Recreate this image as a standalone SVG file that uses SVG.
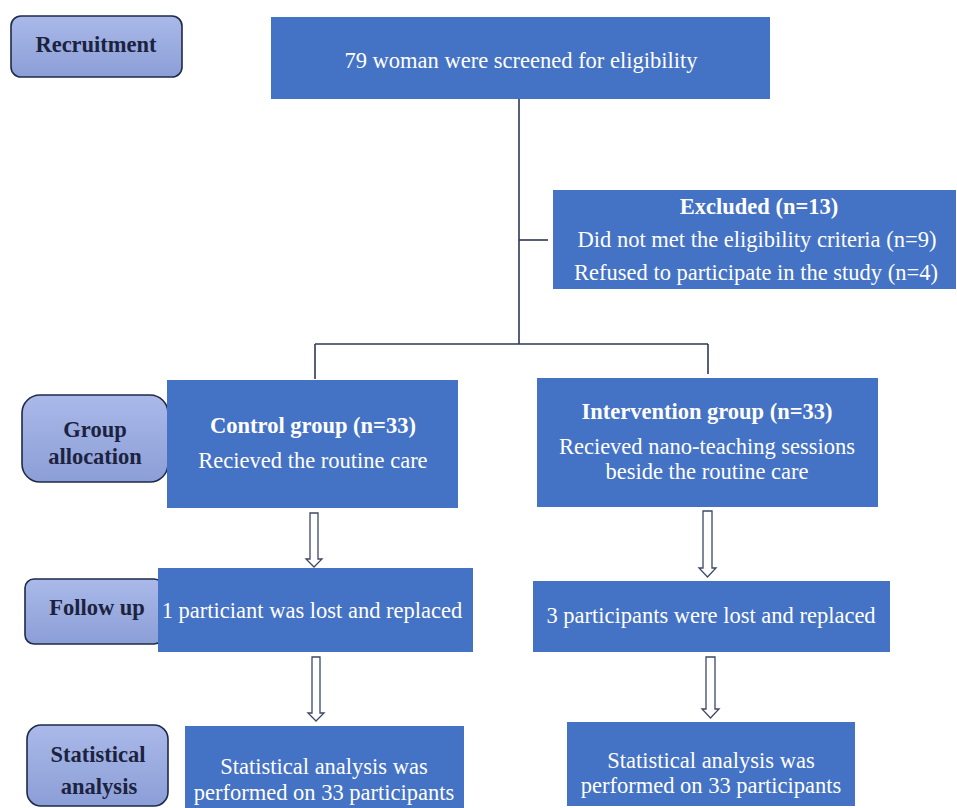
<svg xmlns="http://www.w3.org/2000/svg" width="957" height="808" viewBox="0 0 957 808">
<defs>
<linearGradient id="lbl" x1="0" y1="0" x2="0" y2="1">
<stop offset="0" stop-color="#aab9e9"/>
<stop offset="1" stop-color="#8b9ed6"/>
</linearGradient>
<style>
.box{fill:#4472c4;}
.lab{fill:url(#lbl);stroke:#1f2a48;stroke-width:1.6;}
.wt{font-family:'Liberation Serif','DejaVu Serif',serif;font-size:22.5px;fill:#ffffff;text-anchor:middle;}
.b{font-weight:bold;}
.lt{font-family:'Liberation Serif','DejaVu Serif',serif;font-size:22.5px;font-weight:bold;fill:#1c2340;text-anchor:middle;}
.ln{fill:none;stroke:#2e3856;stroke-width:1.6;}
.ar{fill:#ffffff;stroke:#3c4868;stroke-width:1.3;stroke-linejoin:miter;}
</style>
</defs>
<rect width="957" height="808" fill="#ffffff"/>

<g id="connectors">
<path class="ln" d="M519 99 V344"/>
<path class="ln" d="M519 240 H548"/>
<path class="ln" d="M315 344 H708"/>
<path class="ln" d="M315 344 V379"/>
<path class="ln" d="M708 344 V374"/>
<path class="ar" d="M310 513 H318 V559 H322 L314 567 L306 559 H310 Z"/>
<path class="ar" d="M312 657 H320 V713 H324 L316 721 L308 713 H312 Z"/>
<path class="ar" d="M703 511 H712 V568 H716 L707.5 577 L699 568 H703 Z"/>
<path class="ar" d="M706 657 H715 V709 H719 L710.5 718 L702 709 H706 Z"/>
</g>

<g id="label-recruitment">
<rect class="lab" x="11" y="16" width="171" height="61" rx="10"/>
<text class="lt" x="96" y="52">Recruitment</text>
</g>

<g id="label-group-allocation">
<rect class="lab" x="22" y="395" width="146" height="87" rx="18"/>
<text class="lt" x="95" y="437">Group</text>
<text class="lt" x="95" y="464">allocation</text>
</g>

<g id="label-follow-up">
<rect class="lab" x="25" y="579" width="138" height="65" rx="9"/>
<text class="lt" x="97" y="615">Follow up</text>
</g>

<g id="label-statistical-analysis">
<rect class="lab" x="27" y="725" width="141" height="81" rx="14"/>
<text class="lt" x="98" y="762">Statistical</text>
<text class="lt" x="99" y="794">analysis</text>
</g>

<g id="screened">
<rect class="box" x="271" y="17" width="499" height="82"/>
<text class="wt" x="521" y="68">79 woman were screened for eligibility</text>
</g>

<g id="excluded">
<rect class="box" x="553" y="190" width="403" height="99"/>
<text class="wt b" x="759" y="214">Excluded (n=13)</text>
<text class="wt" x="757" y="247">Did not met the eligibility criteria (n=9)</text>
<text class="wt" x="756" y="280">Refused to participate in the study (n=4)</text>
</g>

<g id="control">
<rect class="box" x="167" y="380" width="291" height="128"/>
<text class="wt b" x="313" y="433">Control group (n=33)</text>
<text class="wt" x="313" y="468">Recieved the routine care</text>
</g>

<g id="intervention">
<rect class="box" x="537" y="378" width="341" height="129"/>
<text class="wt b" x="707" y="419">Intervention group (n=33)</text>
<text class="wt" x="707" y="454">Recieved nano-teaching sessions</text>
<text class="wt" x="707" y="479">beside the routine care</text>
</g>

<g id="followup-control">
<rect class="box" x="158" y="568" width="315" height="84"/>
<text class="wt" x="312" y="618">1 particiant was lost and replaced</text>
</g>

<g id="followup-intervention">
<rect class="box" x="533" y="581" width="357" height="71"/>
<text class="wt" x="711" y="623">3 participants were lost and replaced</text>
</g>

<g id="stat-control">
<rect class="box" x="185" y="726" width="279" height="82"/>
<text class="wt" x="324" y="774">Statistical analysis was</text>
<text class="wt" x="324" y="800">performed on 33 participants</text>
</g>

<g id="stat-intervention">
<rect class="box" x="567" y="722" width="288" height="84"/>
<text class="wt" x="711" y="768">Statistical analysis was</text>
<text class="wt" x="711" y="793">performed on 33 participants</text>
</g>
</svg>
